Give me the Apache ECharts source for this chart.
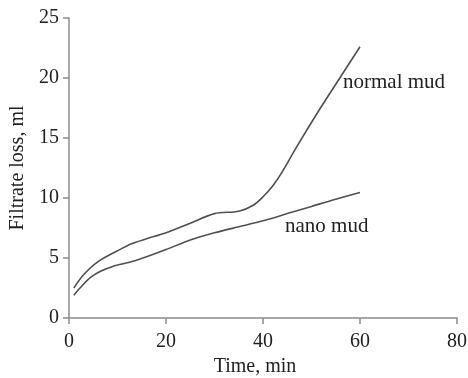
<!DOCTYPE html>
<html>
<head>
<meta charset="utf-8">
<script src="https://cdn.jsdelivr.net/npm/echarts@6/dist/echarts.min.js"></script>
<style>
  html, body { margin: 0; padding: 0; background: #fff; }
  #chart { width: 468px; height: 378px; }
</style>
</head>
<body>
<div id="chart"></div>
<script>
// time (min) / filtrate loss (ml)
const normalTime = [1, 3, 6, 10, 13, 16, 20, 25, 30, 35, 38, 40, 42, 44, 47, 52, 56, 60];
const normalLoss = [2.5, 3.6, 4.7, 5.6, 6.2, 6.6, 7.1, 7.9, 8.7, 8.9, 9.4, 10.1, 11.0, 12.2, 14.3, 17.6, 20.1, 22.6];
const nanoTime = [1, 2.5, 4.5, 6.5, 9, 13, 16, 20, 25, 30, 35, 40, 45, 50, 55, 60];
const nanoLoss = [1.9, 2.6, 3.4, 3.9, 4.3, 4.7, 5.1, 5.7, 6.5, 7.1, 7.6, 8.1, 8.7, 9.3, 9.9, 10.45];

const xTicks = [0, 20, 40, 60, 80];
const yTicks = [0, 5, 10, 15, 20, 25];

const zip = (xs, ys) => xs.map((x, i) => [x, ys[i]]);

const chart = echarts.init(document.getElementById('chart'));

const font = '"Liberation Serif", "DejaVu Serif", serif';
const axisColor = '#8c8c8c';
const lineColor = '#505050';

const option = {
  backgroundColor: '#fff',
  animation: false,
  textStyle: { fontFamily: font },
  grid: { left: 69, right: 11, top: 18, bottom: 60, containLabel: false, outerBoundsMode: 'none' },
  xAxis: {
    type: 'value',
    min: xTicks[0],
    max: xTicks[xTicks.length - 1],
    interval: 20,
    name: 'Time, min',
    nameLocation: 'middle',
    nameGap: 39,
    nameTextStyle: { fontFamily: font, fontSize: 20, color: '#222', padding: [0, 16, 0, 0] },
    axisLine: { show: true, lineStyle: { color: axisColor, width: 1.5 } },
    axisTick: { show: true, length: 6, lineStyle: { color: axisColor, width: 1.5 } },
    axisLabel: { fontFamily: font, fontSize: 20, color: '#222', margin: 14 },
    splitLine: { show: false }
  },
  yAxis: {
    type: 'value',
    min: yTicks[0],
    max: yTicks[yTicks.length - 1],
    interval: 5,
    name: 'Filtrate loss, ml',
    nameLocation: 'middle',
    nameGap: 36,
    nameTextStyle: { fontFamily: font, fontSize: 20, color: '#222' },
    axisLine: { show: true, lineStyle: { color: axisColor, width: 1.5 } },
    axisTick: { show: true, length: 6, lineStyle: { color: axisColor, width: 1.5 } },
    axisLabel: { fontFamily: font, fontSize: 20, color: '#222', margin: 10 },
    splitLine: { show: false }
  },
  series: [
    {
      name: 'normal mud',
      type: 'line',
      data: zip(normalTime, normalLoss),
      smooth: 0.3,
      symbol: 'none',
      lineStyle: { color: lineColor, width: 1.6 }
    },
    {
      name: 'nano mud',
      type: 'line',
      data: zip(nanoTime, nanoLoss),
      smooth: 0.3,
      symbol: 'none',
      lineStyle: { color: lineColor, width: 1.6 }
    }
  ],
  graphic: [
    {
      type: 'text', left: 343, top: 72,
      style: { text: 'normal mud', fontFamily: font, fontSize: 21, fill: '#222' }
    },
    {
      type: 'text', left: 285, top: 216,
      style: { text: 'nano mud', fontFamily: font, fontSize: 21, fill: '#222' }
    }
  ]
};

chart.setOption(option);
window.addEventListener('resize', chart.resize);
</script>
</body>
</html>
